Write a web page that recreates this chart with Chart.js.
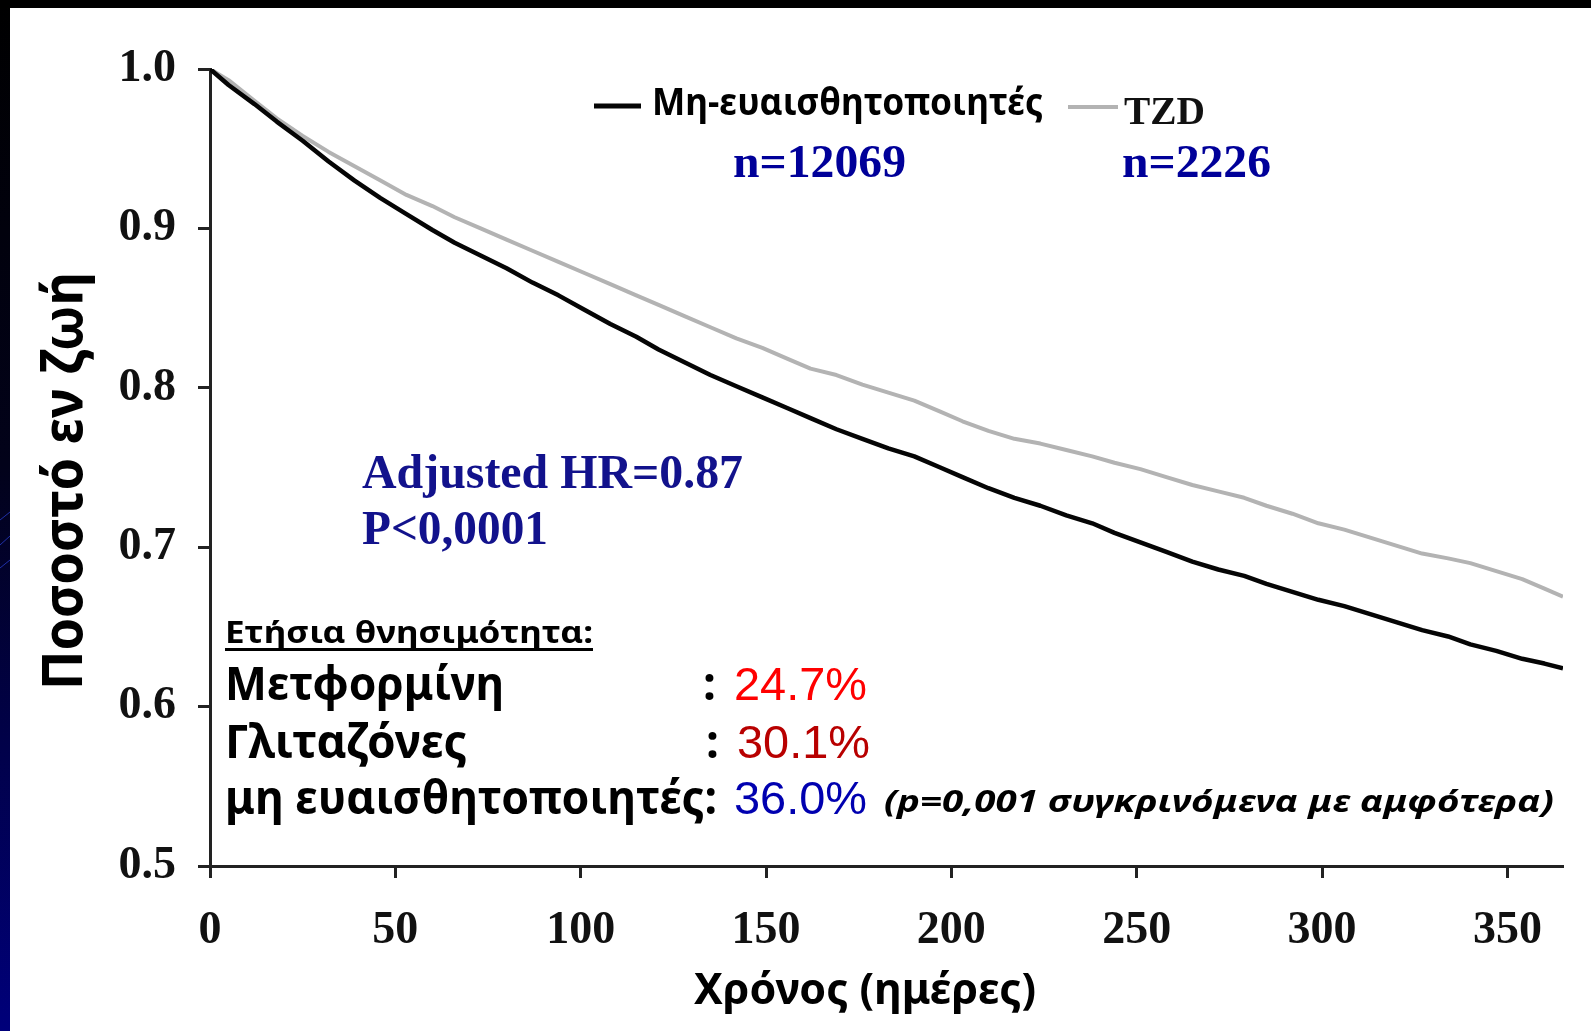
<!DOCTYPE html>
<html>
<head>
<meta charset="utf-8">
<title>Ποσοστό εν ζωή</title>
<script src="https://cdn.jsdelivr.net/npm/chart.js@4.4.1/dist/chart.umd.min.js"></script>
<style>
  html, body { margin: 0; padding: 0; background: #000; overflow: hidden; }
  canvas { display: block; }
</style>
</head>
<body>
<canvas id="km" width="1591" height="1031"></canvas>
<script>
// Follow-up time (days) at which the survival curves are sampled
const days = [0, 5, 12, 18, 25, 32, 39, 46, 53, 60, 66, 73, 80, 87, 94, 101, 108, 115, 121, 128,
              135, 142, 149, 156, 162, 169, 176, 183, 190, 197, 203, 210, 217, 224, 231, 238,
              244, 251, 258, 265, 272, 279, 285, 292, 299, 306, 313, 320, 327, 334, 340, 347,
              354, 360, 365];

// Proportion alive – non-sensitizers (n=12069)
const nonSensitizers = [1.000, 0.990, 0.978, 0.967, 0.955, 0.942, 0.930, 0.919, 0.909, 0.899,
                        0.891, 0.883, 0.875, 0.866, 0.858, 0.849, 0.840, 0.832, 0.824, 0.816,
                        0.808, 0.801, 0.794, 0.787, 0.781, 0.774, 0.768, 0.762, 0.757, 0.750,
                        0.744, 0.737, 0.731, 0.726, 0.720, 0.715, 0.709, 0.703, 0.697, 0.691,
                        0.686, 0.682, 0.677, 0.672, 0.667, 0.663, 0.658, 0.653, 0.648, 0.644,
                        0.639, 0.635, 0.630, 0.627, 0.624];

// Proportion alive – TZD (n=2226)
const tzd = [1.000, 0.993, 0.980, 0.969, 0.958, 0.948, 0.939, 0.930, 0.921, 0.914,
             0.907, 0.900, 0.893, 0.886, 0.879, 0.872, 0.865, 0.858, 0.852, 0.845,
             0.838, 0.831, 0.825, 0.818, 0.812, 0.808, 0.802, 0.797, 0.792, 0.785,
             0.779, 0.773, 0.768, 0.765, 0.761, 0.757, 0.753, 0.749, 0.744, 0.739,
             0.735, 0.731, 0.726, 0.721, 0.715, 0.711, 0.706, 0.701, 0.696, 0.693,
             0.690, 0.685, 0.680, 0.674, 0.669];

const seriesNames = ['Μη-ευαισθητοποιητές', 'TZD'];
const seriesN = ['n=12069', 'n=2226'];
const xTickValues = [0, 50, 100, 150, 200, 250, 300, 350];
const yTickValues = [0.5, 0.6, 0.7, 0.8, 0.9, 1.0];

const mortalityLabels = ['Μετφορμίνη', 'Γλιταζόνες', 'μη ευαισθητοποιητές'];
const mortalityRates = ['24.7%', '30.1%', '36.0%'];

const SANS = '"Noto Sans", "DejaVu Sans", sans-serif';
const SERIF = '"Liberation Serif", "Times New Roman", serif';
const NUM = '"Liberation Sans Narrow", "Liberation Sans", Arial, sans-serif';

const BLACK_LINE = '#050505';
const GREY_LINE = '#b3b3b3';

const toPoints = (ys) => days.map((d, i) => ({ x: d, y: ys[i] }));

// Draws text squeezed/stretched horizontally to a given width
function fitText(ctx, text, x, y, size, family, weight, color, width, style) {
  ctx.save();
  ctx.font = `${style || 'normal'} ${weight} ${size}px ${family}`;
  ctx.fillStyle = color;
  ctx.textBaseline = 'alphabetic';
  ctx.textAlign = 'left';
  const w = ctx.measureText(text).width;
  const sx = width ? width / w : 1;
  ctx.translate(x, y);
  ctx.scale(sx, 1);
  ctx.fillText(text, 0, 0);
  ctx.restore();
  return w * sx;
}

const backdrop = {
  id: 'backdrop',
  beforeDraw(chart) {
    const { ctx, width, height } = chart;
    ctx.save();
    ctx.fillStyle = '#000';
    ctx.fillRect(0, 0, width, height);
    const g = ctx.createLinearGradient(0, 0, 0, height);
    g.addColorStop(0, '#000000');
    g.addColorStop(0.45, '#02021a');
    g.addColorStop(1, '#00007a');
    ctx.fillStyle = g;
    ctx.fillRect(0, 8, 10, height - 8);
    ctx.strokeStyle = 'rgba(40,60,200,0.8)';
    ctx.lineWidth = 1;
    [[520, 512], [545, 536], [568, 560]].forEach(([a, b]) => {
      ctx.beginPath(); ctx.moveTo(0, a); ctx.lineTo(10, b); ctx.stroke();
    });
    ctx.fillStyle = '#ffffff';
    ctx.fillRect(10, 8, width - 10, height - 8);
    ctx.restore();
  }
};

const annotations = {
  id: 'annotations',
  afterDraw(chart) {
    const { ctx } = chart;
    // legend
    ctx.save();
    ctx.lineCap = 'butt';
    ctx.strokeStyle = BLACK_LINE; ctx.lineWidth = 5;
    ctx.beginPath(); ctx.moveTo(594, 106); ctx.lineTo(641, 106); ctx.stroke();
    ctx.strokeStyle = GREY_LINE; ctx.lineWidth = 4;
    ctx.beginPath(); ctx.moveTo(1068, 107); ctx.lineTo(1118, 107); ctx.stroke();
    ctx.restore();
    fitText(ctx, seriesNames[0], 652, 115, 37, SANS, 'bold', '#000', 391);
    fitText(ctx, seriesNames[1], 1124, 124, 40, SERIF, 'bold', '#111', 81);
    fitText(ctx, seriesN[0], 733, 177, 47, SERIF, 'bold', '#000099', 173);
    fitText(ctx, seriesN[1], 1122, 177, 47, SERIF, 'bold', '#000099', 149);

    // hazard ratio
    fitText(ctx, 'Adjusted HR=0.87', 362, 488, 48, SERIF, 'bold', '#12128c', 381);
    fitText(ctx, 'P<0,0001', 362, 544, 48, SERIF, 'bold', '#12128c', 186);

    // annual mortality block
    const hw = fitText(ctx, 'Ετήσια θνησιμότητα:', 225, 643, 31, SANS, 'bold', '#000', 368);
    ctx.save();
    ctx.fillStyle = '#000';
    ctx.fillRect(225, 648, hw, 3);
    ctx.restore();

    fitText(ctx, mortalityLabels[0], 225, 700, 46, SANS, 'bold', '#000', 279);
    fitText(ctx, ':', 703, 700, 46, SANS, 'bold', '#000');
    fitText(ctx, mortalityRates[0], 734, 700, 46, NUM, 'normal', '#ff0000', 133);

    fitText(ctx, mortalityLabels[1], 225, 758, 46, SANS, 'bold', '#000', 242);
    fitText(ctx, ':', 706, 758, 46, SANS, 'bold', '#000');
    fitText(ctx, mortalityRates[1], 737, 758, 46, NUM, 'normal', '#b80000', 133);

    fitText(ctx, mortalityLabels[2] + ':', 225, 814, 46, SANS, 'bold', '#000', 492);
    fitText(ctx, mortalityRates[2], 734, 814, 46, NUM, 'normal', '#0000b0', 133);
    fitText(ctx, '(p=0,001 συγκρινόμενα με αμφότερα)', 884, 812, 30, SANS, 'bold', '#000', 670, 'italic');

    // axis titles
    ctx.save();
    ctx.translate(82, 690);
    ctx.rotate(-Math.PI / 2);
    fitText(ctx, 'Ποσοστό εν ζωή', 0, 0, 56, SANS, 'bold', '#000', 418);
    ctx.restore();
    fitText(ctx, 'Χρόνος (ημέρες)', 694, 1004, 43, SANS, 'bold', '#000', 342);
  }
};

const axisStyle = {
  grid: { drawOnChartArea: false, drawTicks: true, tickLength: 12, tickColor: '#222', tickWidth: 3 },
  border: { display: true, color: '#222', width: 3 }
};

new Chart(document.getElementById('km'), {
  type: 'line',
  data: {
    datasets: [
      { label: seriesNames[0], data: toPoints(nonSensitizers), borderColor: BLACK_LINE,
        borderWidth: 4.5, pointRadius: 0, tension: 0, borderJoinStyle: 'round', order: 1 },
      { label: seriesNames[1], data: toPoints(tzd), borderColor: GREY_LINE,
        borderWidth: 4, pointRadius: 0, tension: 0, borderJoinStyle: 'round', order: 2 }
    ]
  },
  options: {
    responsive: false,
    animation: false,
    devicePixelRatio: 1,
    layout: { padding: { top: 69, right: 28, left: 0, bottom: 0 } },
    plugins: { legend: { display: false }, tooltip: { enabled: false } },
    scales: {
      x: {
        type: 'linear', min: 0, max: 365,
        afterFit(scale) { scale.height = 165; },
        afterBuildTicks(scale) { scale.ticks = xTickValues.map(v => ({ value: v })); },
        ticks: { font: { family: SERIF, size: 46, weight: 'bold' }, color: '#111', padding: 26,
                 maxRotation: 0, autoSkip: false },
        ...axisStyle
      },
      y: {
        type: 'linear', min: 0.5, max: 1.0,
        afterFit(scale) { scale.width = 210; },
        afterBuildTicks(scale) { scale.ticks = yTickValues.map(v => ({ value: v })); },
        ticks: { font: { family: SERIF, size: 46, weight: 'bold' }, color: '#111', padding: 22,
                 callback: v => v.toFixed(1), autoSkip: false },
        ...axisStyle
      }
    }
  },
  plugins: [backdrop, annotations]
});
</script>
</body>
</html>
